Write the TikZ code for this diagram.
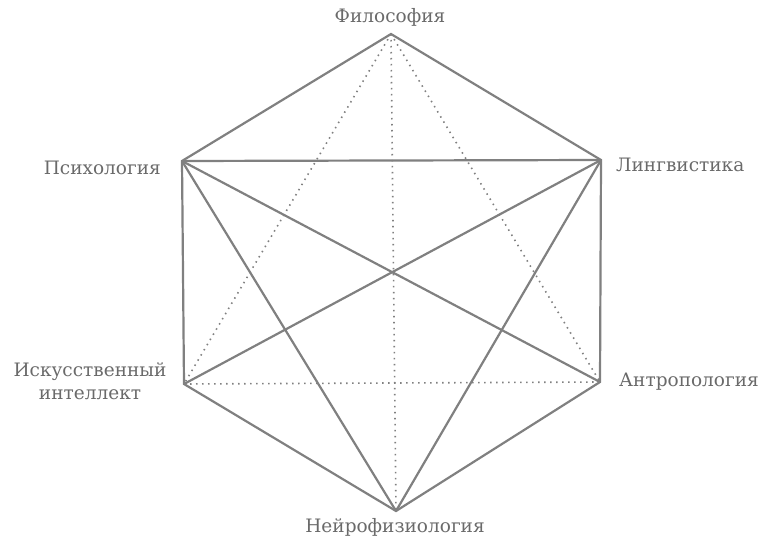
\documentclass[tikz,border=0pt]{standalone}
\usepackage{fontspec}
\setmainfont{DejaVu Serif}
\definecolor{ln}{HTML}{808080}
\definecolor{tx}{HTML}{6A6A6A}
\begin{document}
\begin{tikzpicture}[x=1pt,y=-1pt,
  solidln/.style={draw=ln,line width=2.2pt},
  dotln/.style={draw=ln,line width=1.6pt,dash pattern=on 1.5pt off 4.5pt},
  lbl/.style={text=tx,font=\fontsize{18.5}{23}\selectfont,inner sep=0pt}]
\useasboundingbox (0,0) rectangle (765,540);
\coordinate (F) at (391,34);
\coordinate (P) at (182,161);
\coordinate (L) at (601,160);
\coordinate (I) at (184,384);
\coordinate (A) at (600,382);
\coordinate (N) at (396,511);
% dotted
\draw[dotln] (F) -- (I);
\draw[dotln] (F) -- (A);
\draw[dotln] (F) -- (N);
\draw[dotln] (I) -- (A);
% solid
\draw[solidln,line join=miter] (F) -- (L) -- (A) -- (N) -- (I) -- (P) -- cycle;
\draw[solidln] (P) -- (L);
\draw[solidln] (P) -- (A);
\draw[solidln] (P) -- (N);
\draw[solidln] (L) -- (I);
\draw[solidln] (L) -- (N);
% labels
\node[lbl] (tF) at (390,17) {Философия};
\node[lbl,anchor=east] (tP) at (161,168) {Психология};
\node[lbl,anchor=west] (tL) at (616,165) {Лингвистика};
\node[lbl,align=center] (tI) at (90,381) {Искусственный\\интеллект};
\node[lbl,anchor=west] (tA) at (619,382) {Антропология};
\node[lbl] (tN) at (395,527) {Нейрофизиология};
\end{tikzpicture}
\end{document}
